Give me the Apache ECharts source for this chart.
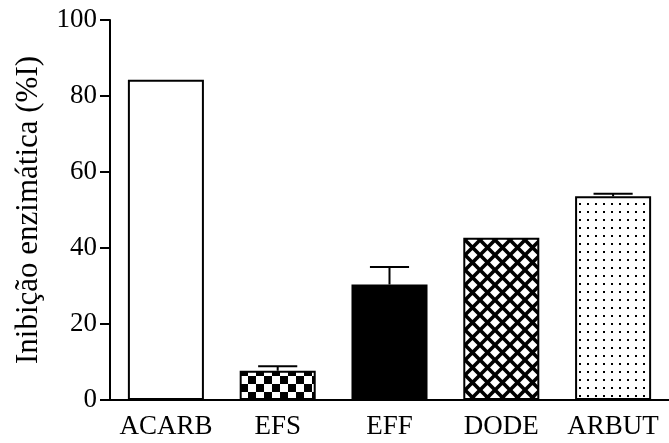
<!DOCTYPE html>
<html>
<head>
<meta charset="utf-8">
<script src="https://cdn.jsdelivr.net/npm/echarts@6/dist/echarts.min.js"></script>
<style>
html,body{margin:0;padding:0;background:#fff;}
#chart{width:669px;height:443px;}
</style>
</head>
<body>
<div id="chart"></div>
<script>
const categories = ['ACARB', 'EFS', 'EFF', 'DODE', 'ARBUT'];
const values = [84.3, 7.7, 30.4, 42.7, 53.6];
const errors = [0, 1.2, 4.6, 0, 0.7];
const yTicks = [0, 20, 40, 60, 80, 100];
const yTitle = 'Inibição enzimática (%I)';

function makeCanvas(w, h, draw) {
  const c = document.createElement('canvas');
  c.width = w; c.height = h;
  const ctx = c.getContext('2d');
  ctx.fillStyle = '#fff';
  ctx.fillRect(0, 0, w, h);
  draw(ctx);
  return c;
}
const checker = makeCanvas(16, 16, ctx => {
  ctx.fillStyle = '#000';
  ctx.fillRect(0, 0, 8, 8);
  ctx.fillRect(8, 8, 8, 8);
});
const hatch = makeCanvas(15, 15, ctx => {
  ctx.strokeStyle = '#000';
  ctx.lineWidth = 3.6;
  ctx.beginPath();
  for (let k = -1; k <= 1; k++) {
    ctx.moveTo(-2 + k * 15, -2); ctx.lineTo(17 + k * 15, 17);
    ctx.moveTo(17 + k * 15, -2); ctx.lineTo(-2 + k * 15, 17);
  }
  ctx.stroke();
});
const dots = makeCanvas(8, 8, ctx => {
  ctx.fillStyle = '#000';
  ctx.fillRect(3, 3, 2, 2);
});

const fills = [
  '#ffffff',
  { image: checker, repeat: 'repeat' },
  '#000000',
  { image: hatch, repeat: 'repeat' },
  { image: dots, repeat: 'repeat' }
];

const font = 'Liberation Serif';
const chart = echarts.init(document.getElementById('chart'), null, { renderer: 'canvas' });
chart.setOption({
  animation: false,
  backgroundColor: '#fff',
  grid: { left: 110, top: 20, height: 380, width: 570, containLabel: false },
  xAxis: {
    type: 'category',
    data: categories,
    axisLine: { lineStyle: { color: '#000', width: 2 } },
    axisTick: { show: false },
    axisLabel: { color: '#000', fontFamily: font, fontSize: 27, margin: 13, interval: 0, hideOverlap: false }
  },
  yAxis: {
    type: 'value',
    min: 0, max: 100, interval: 20,
    name: yTitle,
    nameLocation: 'middle',
    nameGap: 66,
    nameTextStyle: { color: '#000', fontFamily: font, fontSize: 31 },
    axisLine: { show: true, lineStyle: { color: '#000', width: 2 } },
    axisTick: { show: true, length: 10, lineStyle: { color: '#000', width: 2 } },
    splitLine: { show: false },
    axisLabel: {
      color: '#000', fontFamily: font, fontSize: 27, margin: 13,
      formatter: v => yTicks.includes(v) ? String(v) : ''
    }
  },
  series: [
    {
      type: 'bar',
      barWidth: '68%',
      data: values.map((v, i) => ({
        value: v,
        itemStyle: { color: fills[i], borderColor: '#000', borderWidth: 2 }
      }))
    },
    {
      type: 'custom',
      data: values.map((v, i) => [i, v, errors[i]]),
      renderItem: function (params, api) {
        const i = api.value(0), v = api.value(1), e = api.value(2);
        if (!e) return null;
        const base = api.coord([i, v]);
        const top = api.coord([i, v + e]);
        const half = api.size([1, 0])[0] * 0.175;
        return {
          type: 'group',
          children: [
            { type: 'line', shape: { x1: base[0], y1: base[1], x2: top[0], y2: top[1] }, style: { stroke: '#000', lineWidth: 2 } },
            { type: 'line', shape: { x1: top[0] - half, y1: top[1], x2: top[0] + half, y2: top[1] }, style: { stroke: '#000', lineWidth: 2 } }
          ]
        };
      },
      z: 3
    }
  ]
});
</script>
</body>
</html>
